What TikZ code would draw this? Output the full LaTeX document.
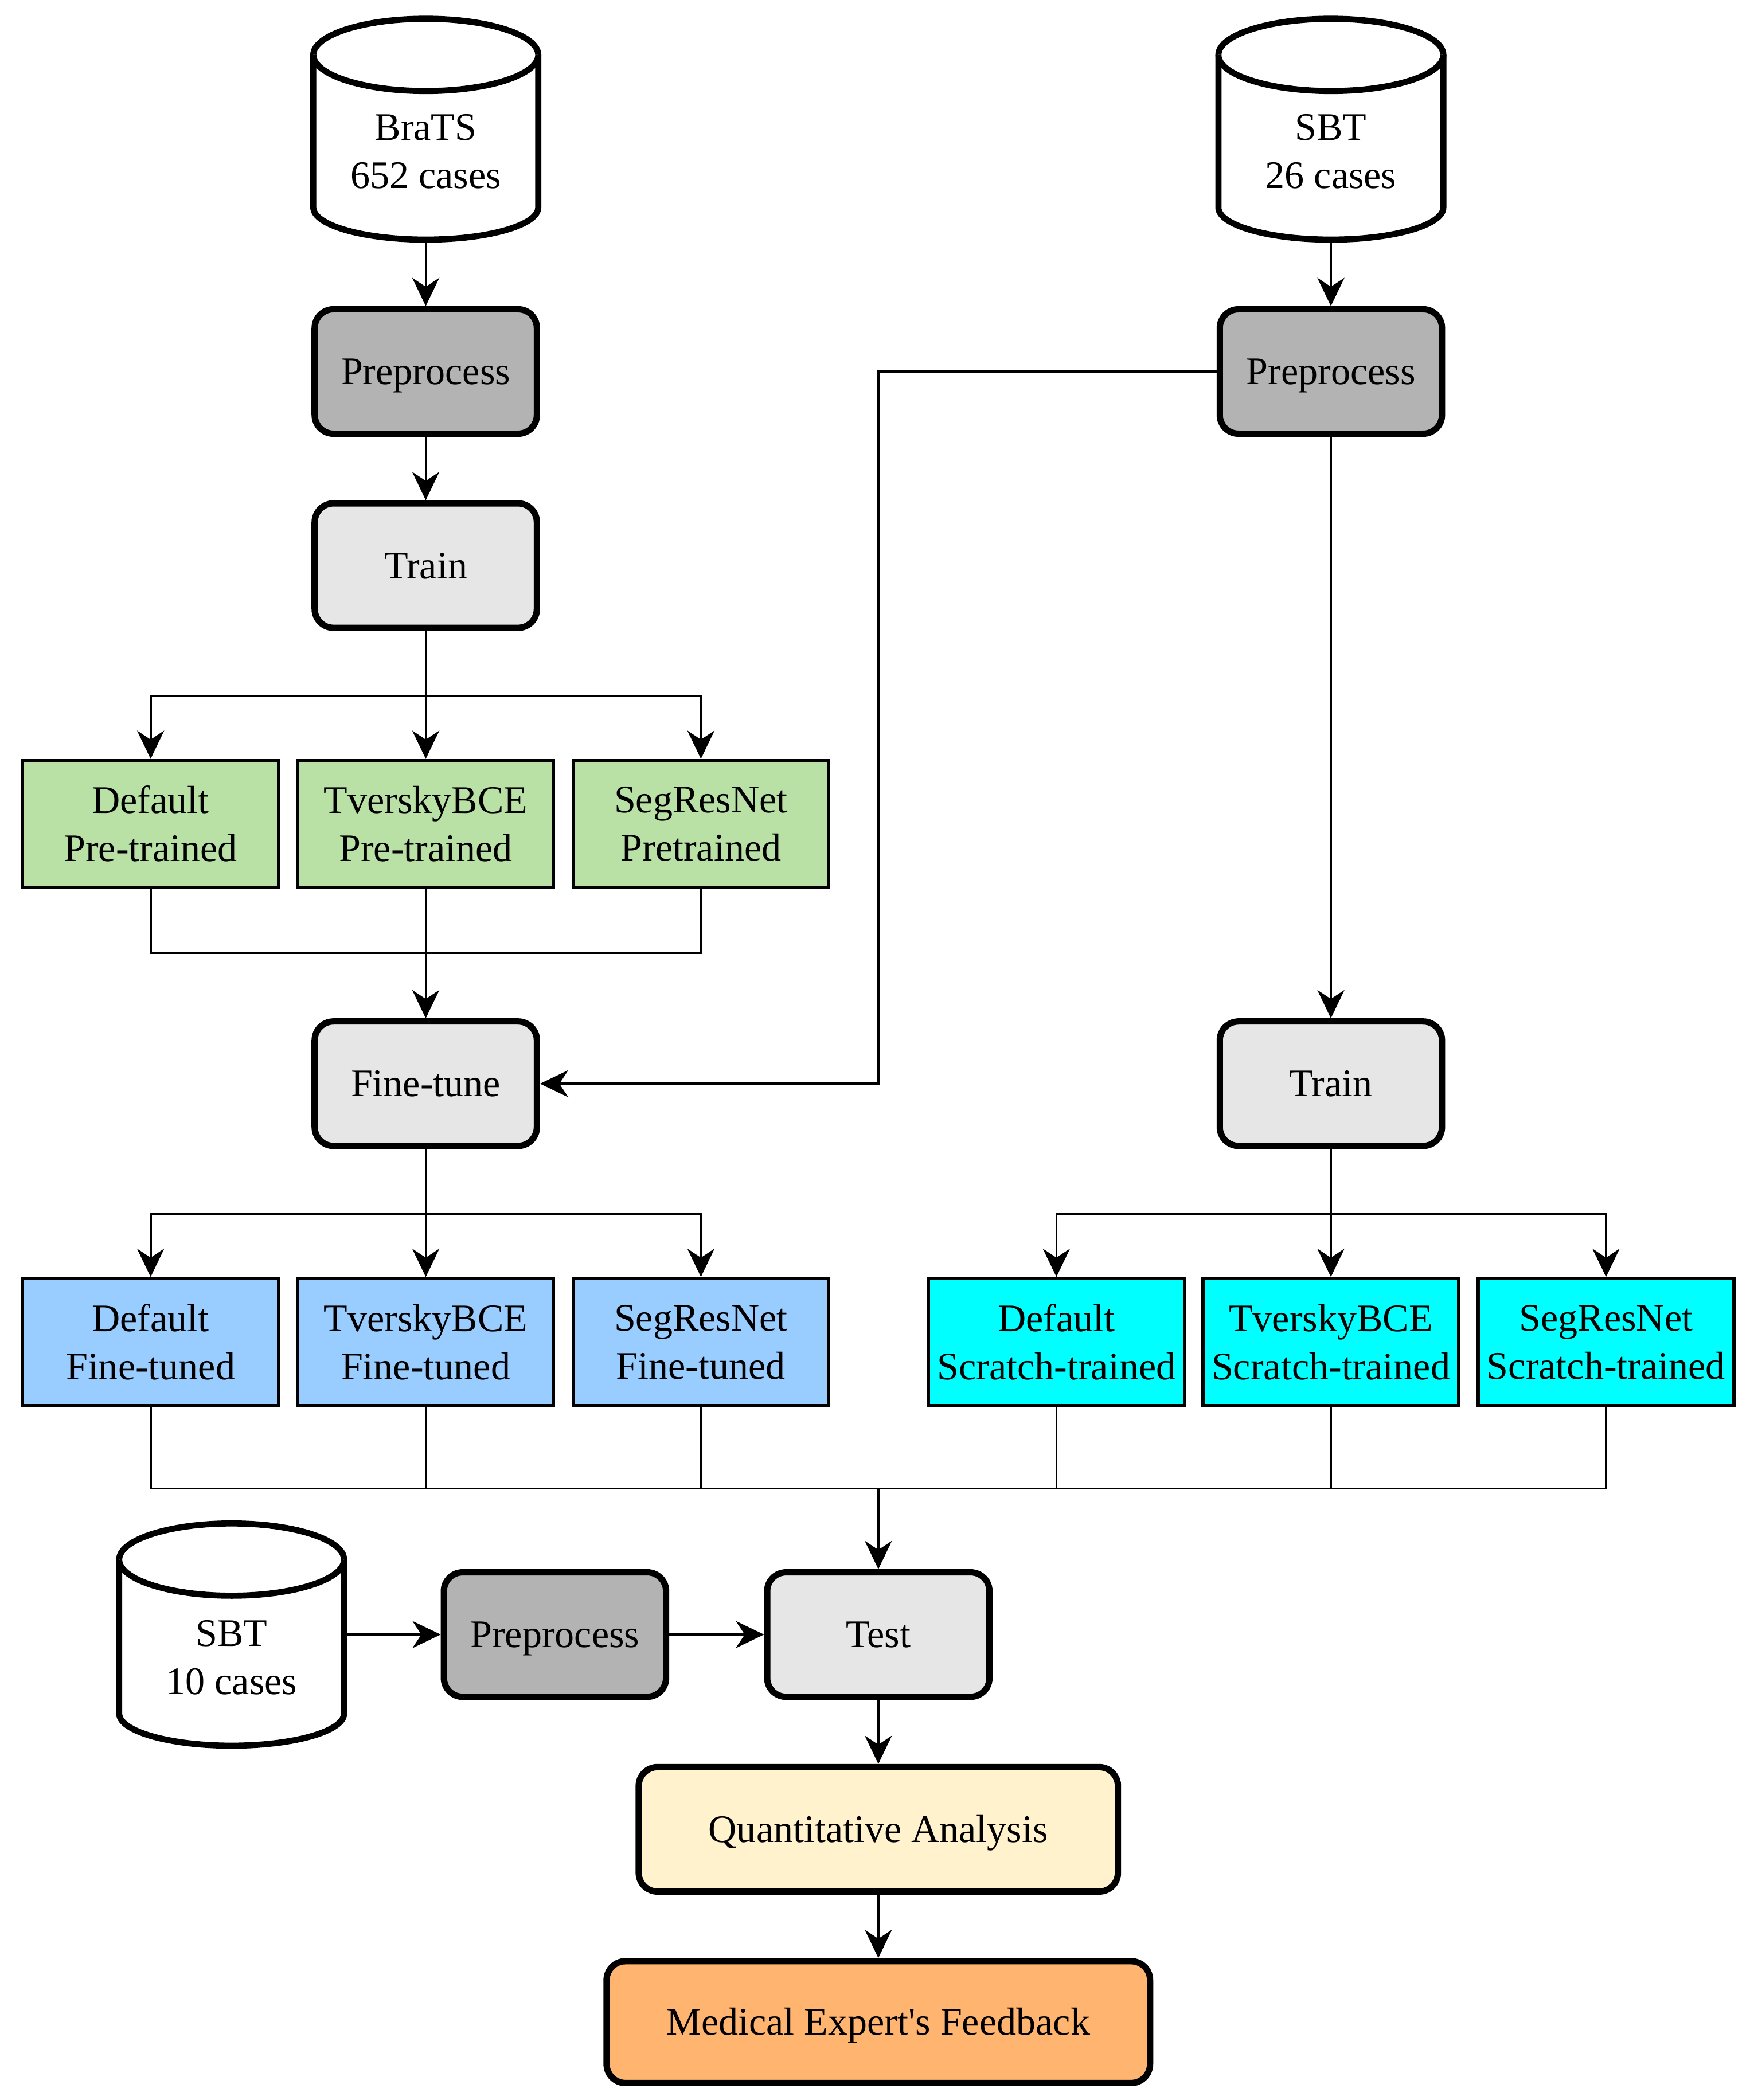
\documentclass[tikz,border=0pt]{standalone}
\usepackage{fontspec}
\setmainfont{Liberation Serif}
\usetikzlibrary{arrows.meta}
\definecolor{grayA}{HTML}{B3B3B3}
\definecolor{grayB}{HTML}{E6E6E6}
\definecolor{greenA}{HTML}{B9E0A5}
\definecolor{blueA}{HTML}{99CCFF}
\definecolor{cyanA}{HTML}{00FFFF}
\definecolor{creamA}{HTML}{FFF2CC}
\definecolor{orangeA}{HTML}{FFB570}
\newcommand\fsz{\fontsize{16.6}{20.5}\selectfont}
\newcommand\drawcyl[3]{%
  \draw[cylline] (#1-84,-#2-27) -- (#1-84,-#3+24)
    arc[start angle=180,end angle=360,x radius=84,y radius=24]
    -- (#1+84,-#2-27)
    arc[start angle=0,end angle=180,x radius=84,y radius=27] -- cycle;
  \draw[cylline] (#1-84,-#2-27) arc[start angle=180,end angle=360,x radius=84,y radius=27];
}
\tikzset{
  box/.style={draw, line width=2.7pt, rounded corners=8pt, minimum width=3.32cm, minimum height=1.86cm, align=center, font=\fsz, inner sep=0pt, text height=14.5pt, text depth=3.5pt},
  darkbox/.style={box, fill=grayA},
  lightbox/.style={box, fill=grayB},
  model/.style={draw, line width=1.3pt, minimum width=3.82cm, minimum height=1.9cm, align=center, font=\fsz, inner sep=0pt},
  greenbox/.style={model, fill=greenA},
  bluebox/.style={model, fill=blueA},
  cyanbox/.style={model, fill=cyanA},
  cyltext/.style={minimum width=3.36cm, minimum height=2.68cm, inner sep=0pt, align=center, font=\fsz},
  cylline/.style={line width=2.6pt, fill=white},
  arr/.style={line width=0.9pt, -{Stealth[length=12pt,width=11.5pt,inset=3.8pt]}},
  ln/.style={line width=0.9pt},
}
\begin{document}
\begin{tikzpicture}[x=0.02cm,y=0.02cm]
\useasboundingbox (0,0) rectangle (1307,-1568.7);
% cylinders
\drawcyl{318}{14}{179}
\drawcyl{994}{14}{179}
\drawcyl{173}{1138}{1304}
\node[cyltext] (brats) at (318,-113) {BraTS\\652 cases};
\node[cyltext] (sbt1) at (994,-113) {SBT\\26 cases};
\node[cyltext] (sbt2) at (173,-1238) {SBT\\10 cases};
% left column
\node[darkbox] (pre1) at (318,-277.5) {Preprocess};
\node[lightbox] (train1) at (318,-422.5) {Train};
\node[greenbox] (g1) at (112.5,-615.5) {Default\\Pre-trained};
\node[greenbox] (g2) at (318,-615.5) {TverskyBCE\\Pre-trained};
\node[greenbox] (g3) at (523.5,-615.5) {SegResNet\\Pretrained};
\node[lightbox] (ft) at (318,-809.5) {Fine-tune};
\node[bluebox] (b1) at (112.5,-1002.5) {Default\\Fine-tuned};
\node[bluebox] (b2) at (318,-1002.5) {TverskyBCE\\Fine-tuned};
\node[bluebox] (b3) at (523.5,-1002.5) {SegResNet\\Fine-tuned};
% right column
\node[darkbox] (pre2) at (994,-277.5) {Preprocess};
\node[lightbox] (train2) at (994,-809.5) {Train};
\node[cyanbox] (c1) at (789,-1002.5) {Default\\Scratch-trained};
\node[cyanbox] (c2) at (994,-1002.5) {TverskyBCE\\Scratch-trained};
\node[cyanbox] (c3) at (1199.5,-1002.5) {SegResNet\\Scratch-trained};
% bottom
\node[darkbox] (pre3) at (414.5,-1221) {Preprocess};
\node[lightbox] (test) at (656,-1221) {Test};
\node[box, fill=creamA, minimum width=7.16cm] (qa) at (656,-1366.5) {Quantitative Analysis};
\node[box, fill=orangeA, minimum width=8.12cm, minimum height=1.82cm] (med) at (656,-1510.5) {Medical Expert\textquotesingle s Feedback};
% junction coordinates
\coordinate (j1) at (318,-520);
\coordinate (m1) at (318,-712);
\coordinate (k1) at (656,-809.5);
\coordinate (j2) at (318,-907);
\coordinate (j3) at (994,-907);
\coordinate (m2) at (656,-1112);
% connectors left
\draw[arr] (brats) -- (pre1);
\draw[arr] (pre1) -- (train1);
\draw[arr] (train1) -- (g2);
\draw[arr] (j1) -| (g1);
\draw[arr] (j1) -| (g3);
\draw[ln] (g1) |- (m1);
\draw[ln] (g3) |- (m1);
\draw[arr] (g2) -- (ft);
\draw[arr] (ft) -- (b2);
\draw[arr] (j2) -| (b1);
\draw[arr] (j2) -| (b3);
% connectors right
\draw[arr] (sbt1) -- (pre2);
\draw[arr] (pre2) -- (train2);
\draw[arr] (pre2) -| (k1) -- (ft);
\draw[arr] (train2) -- (c2);
\draw[arr] (j3) -| (c1);
\draw[arr] (j3) -| (c3);
% merge
\draw[ln] (b1) |- (m2);
\draw[ln] (b2) |- (m2);
\draw[ln] (b3) |- (m2);
\draw[ln] (c1) |- (m2);
\draw[ln] (c2) |- (m2);
\draw[ln] (c3) |- (m2);
\draw[arr] (m2) -- (test);
% bottom chain
\draw[arr] (sbt2.east |- pre3) -- (pre3);
\draw[arr] (pre3) -- (test);
\draw[arr] (test) -- (qa);
\draw[arr] (qa) -- (med);
\end{tikzpicture}
\end{document}
